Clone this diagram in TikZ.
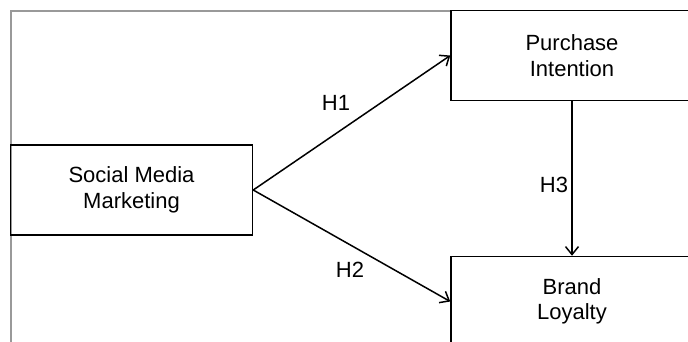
\documentclass[tikz,border=0pt]{standalone}
\usepackage{fontspec}
\setmainfont{Liberation Sans}
\usetikzlibrary{arrows.meta, positioning}

\begin{document}
\begin{tikzpicture}[x=1pt,y=-1pt,>={Straight Barb[length=8pt,width=13pt]},
  box/.style={draw,line width=1.5pt,minimum width=242pt,minimum height=90pt,align=center,inner sep=0pt,font=\fontsize{22}{25.5}\selectfont},
  hyp/.style={font=\fontsize{22}{25.5}\selectfont,inner sep=0pt},
  link/.style={->,line width=1.5pt},
%scale=0.7, transform shape
]
\useasboundingbox (0,0) rectangle (688,341);
\clip (0,0) rectangle (688,341);
% frame
\draw[gray!80,line width=1.2pt] (451,11) -- (11,11) -- (11,345);

\node[box] (nSMM) at (131.5,190) {Social Media\\Marketing};
\node[box] (nPI) at (572,55.5) {Purchase\\Intention};
\node[box] (nBL) at (572,301.5) {Brand\\Loyalty};

\draw[link] (nSMM.east) -- (nPI.west);
\draw[link] (nSMM.east) -- (nBL.west);
\draw[link] (nPI.south) -- (nBL.north);

\node[hyp] (nH1) at (336,103) {H1};
\node[hyp] (nH2) at (350,270) {H2};
\node[hyp] (nH3) at (554,185) {H3};
\end{tikzpicture}
\end{document}
